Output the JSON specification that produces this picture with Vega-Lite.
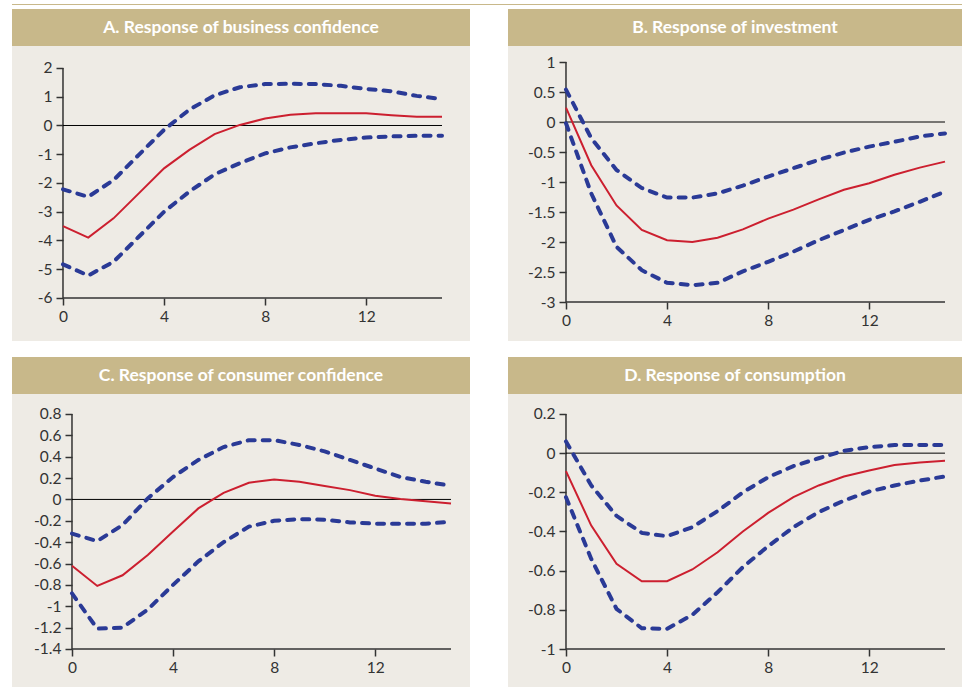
{
  "$schema": "https://vega.github.io/schema/vega-lite/v6.json",
  "background": "white",
  "padding": {"left": 12, "top": 4, "right": 0, "bottom": 0},
  "spacing": 16,
  "config": {
    "view": {"stroke": null},
    "concat": {"spacing": 0},
    "axis": {"domain": false, "grid": false, "ticks": true, "tickColor": "#333333", "tickWidth": 1.5, "tickSize": 7, "labelFont": "Lato", "labelFontSize": 15.5, "labelColor": "#333333", "labelPadding": 4, "labelOverlap": false, "title": null}
  },
  "vconcat": [
    {
      "spacing": 4,
      "vconcat": [
        {"width": 950, "height": 1, "view": {"fill": "#c8b88a", "stroke": null}, "data": {"values": [{"t": ""}]}, "mark": {"type": "text", "fontSize": 0}, "encoding": {"text": {"field": "t"}}},
        {
          "spacing": 38,
          "hconcat": [
            {
              "spacing": 0,
              "vconcat": [
                {"width": 458, "height": 37, "view": {"fill": "#c8b88a", "stroke": null}, "data": {"values": [{"t": "A. Response of business confidence"}]}, "mark": {"type": "text", "font": "Lato", "fontWeight": "bold", "fontSize": 17.5, "color": "#ffffff"}, "encoding": {"text": {"field": "t"}}},
                {
                  "width": 458, "height": 295,
                  "view": {"fill": "#eeebe5", "stroke": null},
                  "data": {"values": [
                    {"x": 0, "mid": -3.5, "up": -2.22, "lo": -4.83},
                    {"x": 1, "mid": -3.9, "up": -2.48, "lo": -5.22},
                    {"x": 2, "mid": -3.23, "up": -1.9, "lo": -4.74},
                    {"x": 3, "mid": -2.36, "up": -1.02, "lo": -3.87},
                    {"x": 4, "mid": -1.49, "up": -0.15, "lo": -3.0},
                    {"x": 5, "mid": -0.85, "up": 0.55, "lo": -2.3},
                    {"x": 6, "mid": -0.3, "up": 1.05, "lo": -1.7},
                    {"x": 7, "mid": 0.02, "up": 1.33, "lo": -1.31},
                    {"x": 8, "mid": 0.24, "up": 1.44, "lo": -0.97},
                    {"x": 9, "mid": 0.37, "up": 1.45, "lo": -0.76},
                    {"x": 10, "mid": 0.43, "up": 1.44, "lo": -0.62},
                    {"x": 11, "mid": 0.43, "up": 1.38, "lo": -0.5},
                    {"x": 12, "mid": 0.43, "up": 1.27, "lo": -0.42},
                    {"x": 13, "mid": 0.36, "up": 1.19, "lo": -0.38},
                    {"x": 14, "mid": 0.3, "up": 1.03, "lo": -0.36},
                    {"x": 15, "mid": 0.3, "up": 0.92, "lo": -0.36}
                  ]},
                  "encoding": {"x": {"field": "x", "type": "quantitative", "title": null, "scale": {"domain": [-2.018, 16.108], "nice": false, "zero": false}, "axis": {"offset": -43, "values": [0, 4, 8, 12], "tickCount": 30, "labelOverlap": false, "labelExpr": "'' + datum.value"}}},
                  "layer": [
                    {"data": {"values": [{"x": 0, "x2": 15, "y": -6, "y2": -6}, {"x": 0, "x2": 0, "y": -6, "y2": 2}]}, "mark": {"type": "rule", "color": "#333333", "strokeWidth": 1.5}, "encoding": {"x2": {"field": "x2"}, "y": {"field": "y", "type": "quantitative", "title": null, "scale": {"domain": [-7.496, 2.765], "nice": false, "zero": false}, "axis": {"offset": -51, "values": [-6, -5, -4, -3, -2, -1, 0, 1, 2], "tickCount": 30, "labelOverlap": false, "labelExpr": "'' + datum.value"}}, "y2": {"field": "y2"}}},
                    {"data": {"values": [{"x": 0, "x2": 15, "y": 0, "y2": 0}]}, "mark": {"type": "rule", "color": "#000000", "strokeWidth": 1}, "encoding": {"x2": {"field": "x2"}, "y": {"field": "y", "type": "quantitative", "title": null}, "y2": {"field": "y2"}}},
                    {"mark": {"type": "line", "color": "#2a3a96", "strokeWidth": 4, "strokeDash": [7, 8], "strokeCap": "round"}, "encoding": {"y": {"field": "up", "type": "quantitative", "title": null}}},
                    {"mark": {"type": "line", "color": "#2a3a96", "strokeWidth": 4, "strokeDash": [7, 8], "strokeCap": "round"}, "encoding": {"y": {"field": "lo", "type": "quantitative", "title": null}}},
                    {"mark": {"type": "line", "color": "#cc1f2f", "strokeWidth": 2}, "encoding": {"y": {"field": "mid", "type": "quantitative", "title": null}}}
                  ]
                }
              ]
            },
            {
              "spacing": 0,
              "vconcat": [
                {"width": 454, "height": 37, "view": {"fill": "#c8b88a", "stroke": null}, "data": {"values": [{"t": "B. Response of investment"}]}, "mark": {"type": "text", "font": "Lato", "fontWeight": "bold", "fontSize": 17.5, "color": "#ffffff"}, "encoding": {"text": {"field": "t"}}},
                {
                  "width": 454, "height": 295,
                  "view": {"fill": "#eeebe5", "stroke": null},
                  "data": {"values": [
                    {"x": 0, "mid": 0.24, "up": 0.54, "lo": -0.02},
                    {"x": 1, "mid": -0.72, "up": -0.27, "lo": -1.19},
                    {"x": 2, "mid": -1.39, "up": -0.8, "lo": -2.08},
                    {"x": 3, "mid": -1.8, "up": -1.1, "lo": -2.47},
                    {"x": 4, "mid": -1.97, "up": -1.26, "lo": -2.68},
                    {"x": 5, "mid": -2.0, "up": -1.26, "lo": -2.72},
                    {"x": 6, "mid": -1.93, "up": -1.19, "lo": -2.68},
                    {"x": 7, "mid": -1.79, "up": -1.06, "lo": -2.49},
                    {"x": 8, "mid": -1.61, "up": -0.91, "lo": -2.33},
                    {"x": 9, "mid": -1.46, "up": -0.77, "lo": -2.16},
                    {"x": 10, "mid": -1.29, "up": -0.63, "lo": -1.97},
                    {"x": 11, "mid": -1.13, "up": -0.51, "lo": -1.8},
                    {"x": 12, "mid": -1.02, "up": -0.41, "lo": -1.63},
                    {"x": 13, "mid": -0.88, "up": -0.33, "lo": -1.49},
                    {"x": 14, "mid": -0.76, "up": -0.24, "lo": -1.33},
                    {"x": 15, "mid": -0.66, "up": -0.19, "lo": -1.16}
                  ]},
                  "encoding": {"x": {"field": "x", "type": "quantitative", "title": null, "scale": {"domain": [-2.295, 15.673], "nice": false, "zero": false}, "axis": {"offset": -39, "values": [0, 4, 8, 12], "tickCount": 30, "labelOverlap": false, "labelExpr": "'' + datum.value"}}},
                  "layer": [
                    {"data": {"values": [{"x": 0, "x2": 15, "y": -3, "y2": -3}, {"x": 0, "x2": 0, "y": -3, "y2": 1}]}, "mark": {"type": "rule", "color": "#333333", "strokeWidth": 1.5}, "encoding": {"x2": {"field": "x2"}, "y": {"field": "y", "type": "quantitative", "title": null, "scale": {"domain": [-3.65, 1.267], "nice": false, "zero": false}, "axis": {"offset": -58, "values": [-3, -2.5, -2, -1.5, -1, -0.5, 0, 0.5, 1], "tickCount": 30, "labelOverlap": false, "labelExpr": "'' + datum.value"}}, "y2": {"field": "y2"}}},
                    {"data": {"values": [{"x": 0, "x2": 15, "y": 0, "y2": 0}]}, "mark": {"type": "rule", "color": "#000000", "strokeWidth": 1}, "encoding": {"x2": {"field": "x2"}, "y": {"field": "y", "type": "quantitative", "title": null}, "y2": {"field": "y2"}}},
                    {"mark": {"type": "line", "color": "#2a3a96", "strokeWidth": 4, "strokeDash": [7, 8], "strokeCap": "round"}, "encoding": {"y": {"field": "up", "type": "quantitative", "title": null}}},
                    {"mark": {"type": "line", "color": "#2a3a96", "strokeWidth": 4, "strokeDash": [7, 8], "strokeCap": "round"}, "encoding": {"y": {"field": "lo", "type": "quantitative", "title": null}}},
                    {"mark": {"type": "line", "color": "#cc1f2f", "strokeWidth": 2}, "encoding": {"y": {"field": "mid", "type": "quantitative", "title": null}}}
                  ]
                }
              ]
            }
          ]
        }
      ]
    },
    {
      "spacing": 38,
      "hconcat": [
        {
          "spacing": 0,
          "vconcat": [
            {"width": 458, "height": 37, "view": {"fill": "#c8b88a", "stroke": null}, "data": {"values": [{"t": "C. Response of consumer confidence"}]}, "mark": {"type": "text", "font": "Lato", "fontWeight": "bold", "fontSize": 17.5, "color": "#ffffff"}, "encoding": {"text": {"field": "t"}}},
            {
              "width": 458, "height": 293,
              "view": {"fill": "#eeebe5", "stroke": null},
              "data": {"values": [
                {"x": 0, "mid": -0.62, "up": -0.32, "lo": -0.88},
                {"x": 1, "mid": -0.81, "up": -0.39, "lo": -1.21},
                {"x": 2, "mid": -0.71, "up": -0.24, "lo": -1.2},
                {"x": 3, "mid": -0.52, "up": 0.01, "lo": -1.03},
                {"x": 4, "mid": -0.3, "up": 0.21, "lo": -0.8},
                {"x": 5, "mid": -0.084, "up": 0.37, "lo": -0.58},
                {"x": 6, "mid": 0.062, "up": 0.49, "lo": -0.4},
                {"x": 7, "mid": 0.156, "up": 0.555, "lo": -0.255},
                {"x": 8, "mid": 0.187, "up": 0.555, "lo": -0.2},
                {"x": 9, "mid": 0.165, "up": 0.51, "lo": -0.184},
                {"x": 10, "mid": 0.125, "up": 0.45, "lo": -0.19},
                {"x": 11, "mid": 0.087, "up": 0.37, "lo": -0.215},
                {"x": 12, "mid": 0.034, "up": 0.29, "lo": -0.227},
                {"x": 13, "mid": 0.003, "up": 0.21, "lo": -0.227},
                {"x": 14, "mid": -0.016, "up": 0.165, "lo": -0.227},
                {"x": 15, "mid": -0.037, "up": 0.128, "lo": -0.21}
              ]},
              "encoding": {"x": {"field": "x", "type": "quantitative", "title": null, "scale": {"domain": [-2.374, 15.752], "nice": false, "zero": false}, "axis": {"offset": -38, "values": [0, 4, 8, 12], "tickCount": 30, "labelOverlap": false, "labelExpr": "'' + datum.value"}}},
              "layer": [
                {"data": {"values": [{"x": 0, "x2": 15, "y": -1.4, "y2": -1.4}, {"x": 0, "x2": 0, "y": -1.4, "y2": 0.8}]}, "mark": {"type": "rule", "color": "#333333", "strokeWidth": 1.5}, "encoding": {"x2": {"field": "x2"}, "y": {"field": "y", "type": "quantitative", "title": null, "scale": {"domain": [-1.756, 0.987], "nice": false, "zero": false}, "axis": {"offset": -60, "values": [-1.4, -1.2, -1, -0.8, -0.6, -0.4, -0.2, 0, 0.2, 0.4, 0.6, 0.8], "tickCount": 30, "labelOverlap": false, "labelExpr": "'' + datum.value"}}, "y2": {"field": "y2"}}},
                {"data": {"values": [{"x": 0, "x2": 15, "y": 0, "y2": 0}]}, "mark": {"type": "rule", "color": "#000000", "strokeWidth": 1}, "encoding": {"x2": {"field": "x2"}, "y": {"field": "y", "type": "quantitative", "title": null}, "y2": {"field": "y2"}}},
                {"mark": {"type": "line", "color": "#2a3a96", "strokeWidth": 4, "strokeDash": [7, 8], "strokeCap": "round"}, "encoding": {"y": {"field": "up", "type": "quantitative", "title": null}}},
                {"mark": {"type": "line", "color": "#2a3a96", "strokeWidth": 4, "strokeDash": [7, 8], "strokeCap": "round"}, "encoding": {"y": {"field": "lo", "type": "quantitative", "title": null}}},
                {"mark": {"type": "line", "color": "#cc1f2f", "strokeWidth": 2}, "encoding": {"y": {"field": "mid", "type": "quantitative", "title": null}}}
              ]
            }
          ]
        },
        {
          "spacing": 0,
          "vconcat": [
            {"width": 454, "height": 37, "view": {"fill": "#c8b88a", "stroke": null}, "data": {"values": [{"t": "D. Response of consumption"}]}, "mark": {"type": "text", "font": "Lato", "fontWeight": "bold", "fontSize": 17.5, "color": "#ffffff"}, "encoding": {"text": {"field": "t"}}},
            {
              "width": 454, "height": 293,
              "view": {"fill": "#eeebe5", "stroke": null},
              "data": {"values": [
                {"x": 0, "mid": -0.092, "up": 0.06, "lo": -0.225},
                {"x": 1, "mid": -0.37, "up": -0.165, "lo": -0.54},
                {"x": 2, "mid": -0.565, "up": -0.32, "lo": -0.795},
                {"x": 3, "mid": -0.654, "up": -0.407, "lo": -0.894},
                {"x": 4, "mid": -0.654, "up": -0.424, "lo": -0.897},
                {"x": 5, "mid": -0.594, "up": -0.378, "lo": -0.826},
                {"x": 6, "mid": -0.506, "up": -0.296, "lo": -0.71},
                {"x": 7, "mid": -0.4, "up": -0.2, "lo": -0.582},
                {"x": 8, "mid": -0.305, "up": -0.123, "lo": -0.475},
                {"x": 9, "mid": -0.225, "up": -0.066, "lo": -0.378},
                {"x": 10, "mid": -0.165, "up": -0.026, "lo": -0.301},
                {"x": 11, "mid": -0.119, "up": 0.012, "lo": -0.242},
                {"x": 12, "mid": -0.089, "up": 0.031, "lo": -0.196},
                {"x": 13, "mid": -0.06, "up": 0.041, "lo": -0.165},
                {"x": 14, "mid": -0.048, "up": 0.041, "lo": -0.14},
                {"x": 15, "mid": -0.039, "up": 0.041, "lo": -0.119}
              ]},
              "encoding": {"x": {"field": "x", "type": "quantitative", "title": null, "scale": {"domain": [-2.295, 15.673], "nice": false, "zero": false}, "axis": {"offset": -38, "values": [0, 4, 8, 12], "tickCount": 30, "labelOverlap": false, "labelExpr": "'' + datum.value"}}},
              "layer": [
                {"data": {"values": [{"x": 0, "x2": 15, "y": -1, "y2": -1}, {"x": 0, "x2": 0, "y": -1, "y2": 0.2}]}, "mark": {"type": "rule", "color": "#333333", "strokeWidth": 1.5}, "encoding": {"x2": {"field": "x2"}, "y": {"field": "y", "type": "quantitative", "title": null, "scale": {"domain": [-1.194, 0.302], "nice": false, "zero": false}, "axis": {"offset": -58, "values": [-1, -0.8, -0.6, -0.4, -0.2, 0, 0.2], "tickCount": 30, "labelOverlap": false, "labelExpr": "'' + datum.value"}}, "y2": {"field": "y2"}}},
                {"data": {"values": [{"x": 0, "x2": 15, "y": 0, "y2": 0}]}, "mark": {"type": "rule", "color": "#000000", "strokeWidth": 1}, "encoding": {"x2": {"field": "x2"}, "y": {"field": "y", "type": "quantitative", "title": null}, "y2": {"field": "y2"}}},
                {"mark": {"type": "line", "color": "#2a3a96", "strokeWidth": 4, "strokeDash": [7, 8], "strokeCap": "round"}, "encoding": {"y": {"field": "up", "type": "quantitative", "title": null}}},
                {"mark": {"type": "line", "color": "#2a3a96", "strokeWidth": 4, "strokeDash": [7, 8], "strokeCap": "round"}, "encoding": {"y": {"field": "lo", "type": "quantitative", "title": null}}},
                {"mark": {"type": "line", "color": "#cc1f2f", "strokeWidth": 2}, "encoding": {"y": {"field": "mid", "type": "quantitative", "title": null}}}
              ]
            }
          ]
        }
      ]
    }
  ]
}
